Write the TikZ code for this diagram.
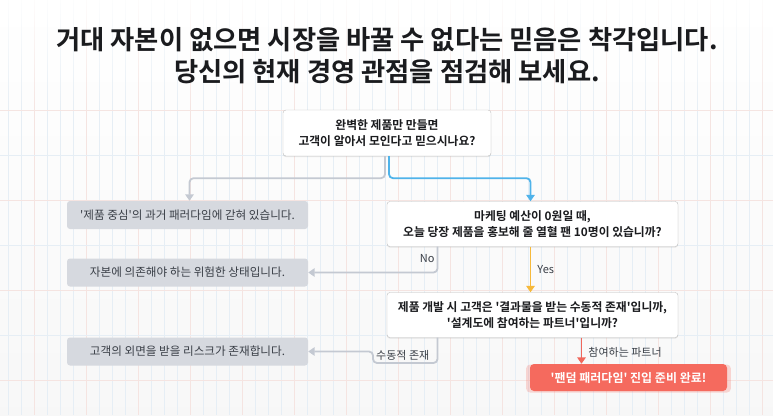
\documentclass[tikz,border=0pt]{standalone}
\usepackage{fontspec}
\setmainfont{Noto Sans CJK KR}[BoldFont={Noto Sans CJK KR Bold}]
\usetikzlibrary{positioning, arrows.meta, shadows, fadings}

\definecolor{inkdark}{HTML}{1A1B1E}
\definecolor{outfill}{HTML}{D6D9DF}
\definecolor{outtext}{HTML}{3A3F47}
\definecolor{linegray}{HTML}{C4C9D2}
\definecolor{lineblue}{HTML}{4FB3EA}
\definecolor{lineyellow}{HTML}{F6B93B}
\definecolor{linered}{HTML}{F0675B}
\definecolor{goalred}{HTML}{F56A5E}
\definecolor{gridpink}{HTML}{F5E4E1}
\definecolor{gridblue}{HTML}{E6EEF5}

\newcommand{\sq}{\textquotesingle}

\tikzset{
  question/.style={rectangle, rounded corners=3pt, draw=black!25, fill=white,
    align=center, font=\fontsize{11.8}{15.5}\selectfont\bfseries, text=inkdark,
    drop shadow={opacity=0.18, shadow xshift=0pt, shadow yshift=-1.2pt}},
  outcome/.style={rectangle, rounded corners=3pt, fill=outfill, text=outtext,
    minimum width=241pt, minimum height=28pt, font=\fontsize{11.6}{14}\selectfont},
  goal/.style={rectangle, rounded corners=4pt, fill=goalred, text=white,
    minimum width=197pt, minimum height=27pt, font=\fontsize{12}{14}\selectfont\bfseries,
    drop shadow={opacity=0.25, color=goalred, shadow xshift=0pt, shadow yshift=-1pt, shadow scale=1.04}},
  lbl/.style={font=\fontsize{11}{13}\selectfont, text=outtext, inner sep=2pt},
  conn/.style={line width=1.8pt, rounded corners=4pt, ->},
}

\begin{document}
\begin{tikzpicture}[x=1pt, y=-1pt, >={Triangle[width=8.5pt,length=6.5pt]}]
  \useasboundingbox (0,0) rectangle (773,415);
  \shade[top color=white, bottom color=black!3] (0,0) rectangle (773,415);

  % paper grid
  \foreach \x in {8,21,...,773}
    \draw[gridblue, line width=0.6pt] (\x,0) -- (\x,415);
  \foreach \x in {34,86,...,773}
    \draw[gridpink, line width=0.7pt] (\x,0) -- (\x,415);
  \foreach \y in {110,200,290,380}
    \draw[gridpink, line width=0.7pt] (0,\y) -- (773,\y);
  \foreach \y in {155,245,335}
    \draw[gridblue, line width=0.7pt] (0,\y) -- (773,\y);
  \fill[white, opacity=0.9, path fading=south] (0,0) rectangle (773,115);

  % title
  \node[font=\fontsize{26.3}{32}\selectfont\bfseries, text=inkdark, align=center] (title) at (387,56)
    {거대 자본이 없으면 시장을 바꿀 수 없다는 믿음은 착각입니다.\\당신의 현재 경영 관점을 점검해 보세요.};

  % questions
  \node[question, minimum width=208pt, minimum height=46pt] (q1) at (387,133)
    {완벽한 제품만 만들면\\고객이 알아서 모인다고 믿으시나요?};
  \node[question, minimum width=291pt, minimum height=45pt] (q2) at (532.5,224)
    {마케팅 예산이 0원일 때,\\오늘 당장 제품을 홍보해 줄 열혈 팬 10명이 있습니까?};
  \node[question, minimum width=291pt, minimum height=45pt] (q3) at (532.5,315)
    {제품 개발 시 고객은 \sq 결과물을 받는 수동적 존재\sq 입니까,\\\sq 설계도에 참여하는 파트너\sq 입니까?};

  % outcomes
  \node[outcome] (o1) at (187.5,215) {\sq 제품 중심\sq 의 과거 패러다임에 갇혀 있습니다.};
  \node[outcome] (o2) at (187.5,272.5) {자본에 의존해야 하는 위험한 상태입니다.};
  \node[outcome] (o3) at (187.5,351.5) {고객의 외면을 받을 리스크가 존재합니다.};
  \node[goal] (goal) at (628.5,377.5) {\sq 팬덤 패러다임\sq\ 진입 준비 완료!};

  % connectors
  \draw[conn, linegray] ([xshift=-2pt]q1.south) -- ++(0,22) -| ([xshift=2pt]o1.north);
  \draw[conn, lineblue] ([xshift=2pt]q1.south) -- ++(0,22) -| ([xshift=-2pt]q2.north);
  \draw[conn, linegray] ([xshift=-95pt]q2.south) |- (o2.east)
    node[lbl, pos=0.22, left] {No};
  \draw[conn, lineyellow] ([xshift=-2pt]q2.south) -- ([xshift=-2pt]q3.north)
    node[lbl, midway, right=4pt] {Yes};
  \coordinate (jog) at (373,363);
  \draw[conn, linegray] ([xshift=-95pt]q3.south) |- (jog) |- (o3.east);
  \node[lbl, above right=0pt and 1pt of jog] (passive) {수동적 존재};
  \draw[conn, linered] ([xshift=49pt]q3.south) -- ([xshift=49pt]q3.south |- goal.north)
    node[lbl, pos=0.55, right=4pt] {참여하는 파트너};
\end{tikzpicture}
\end{document}
